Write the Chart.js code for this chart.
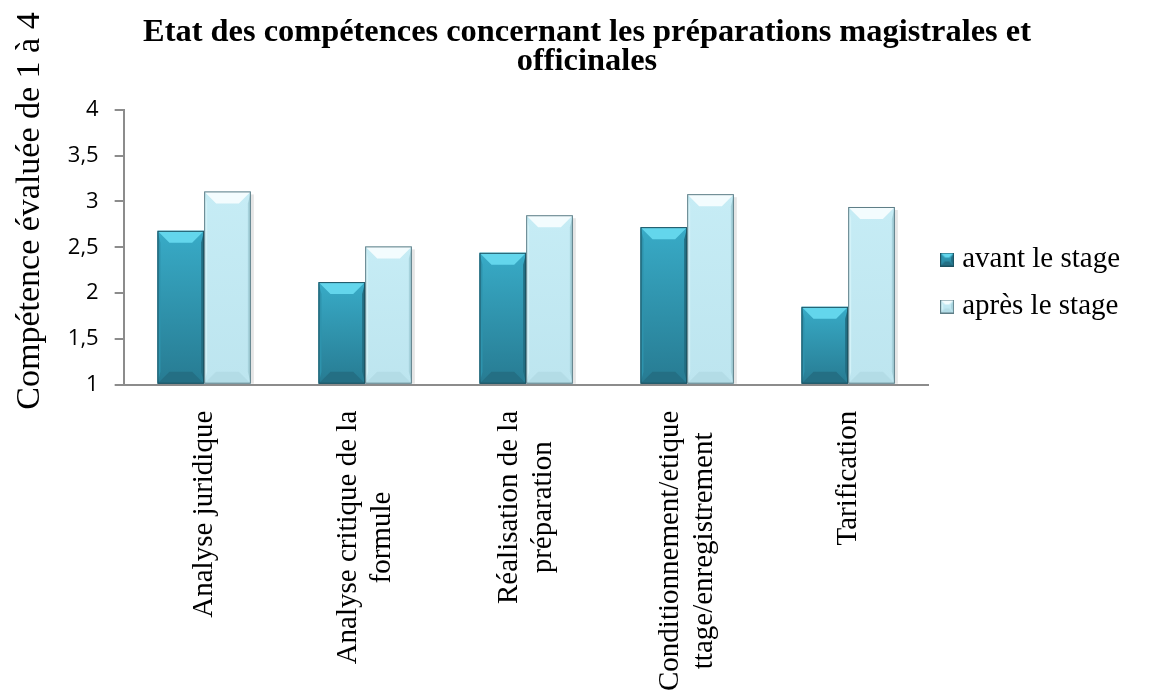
<!DOCTYPE html>
<html lang="fr">
<head>
<meta charset="utf-8">
<title>Etat des compétences</title>
<script src="https://cdn.jsdelivr.net/npm/chart.js@4.4.1/dist/chart.umd.min.js"></script>
<style>
  html, body { margin: 0; padding: 0; background: #fff; }
  #wrap { width: 1154px; height: 693px; position: relative; }
</style>
</head>
<body>
<div id="wrap"><canvas id="chart"></canvas></div>
<script>
// data
const CATEGORIES = [
  "Analyse juridique",
  ["Analyse critique de la", "formule"],
  ["Réalisation de la", "préparation"],
  ["Conditionnement/etique", "ttage/enregistrement"],
  "Tarification"
];
const AVANT = [2.68, 2.12, 2.44, 2.72, 1.85];
const APRES = [3.11, 2.51, 2.85, 3.08, 2.94];
const SERIES_NAMES = ["avant le stage", "après le stage"];
const TITLE_LINES = ["Etat des compétences concernant les préparations magistrales et", "officinales"];
const Y_TITLE = "Compétence évaluée de 1 à 4";
const Y_MIN = 1, Y_MAX = 4, Y_STEP = 0.5;

const SERIF = "'Liberation Serif', 'Times New Roman', serif";
const SANS = "'Open Sans', 'Liberation Sans', sans-serif";
const X_FONT = 29;
const Y_TITLE_FONT = 34;
const TITLE_FONT = 32.4;

// palettes for the bevelled bars
const PAL = [
  { faceTop: "#38abc7", faceBot: "#277b92", top: "#63d6ec", left: "#2e93ad", right: "#226d82", bottom: "#246f84", border: "#1c5160" },
  { faceTop: "#c6ecf5", faceBot: "#bde5ef", top: "#f3fcfe", left: "#d3f2f8", right: "#a6d2dc", bottom: "#b3dce6", border: "#5e7d86" }
];

function bevelRect(ctx, l, t, r, b, p, bev){
  const w = r - l, h = b - t;
  const k = Math.min(bev, w / 2, h / 2);
  const g = ctx.createLinearGradient(0, t, 0, b);
  g.addColorStop(0, p.faceTop);
  g.addColorStop(1, p.faceBot);
  ctx.fillStyle = g;
  ctx.fillRect(l, t, w, h);
  const poly = (pts, col) => {
    ctx.beginPath();
    ctx.moveTo(pts[0][0], pts[0][1]);
    for (let i = 1; i < pts.length; i++) ctx.lineTo(pts[i][0], pts[i][1]);
    ctx.closePath();
    ctx.fillStyle = col;
    ctx.fill();
  };
  const s = Math.min(3, k); // thin side bevels
  poly([[l, t], [r, t], [r - k, t + k], [l + k, t + k]], p.top);
  poly([[l, b], [r, b], [r - k, b - k], [l + k, b - k]], p.bottom);
  poly([[l, t], [l + s, t + k], [l + s, b - k], [l, b]], p.left);
  poly([[r, t], [r - s, t + k], [r - s, b - k], [r, b]], p.right);
  ctx.strokeStyle = p.border;
  ctx.lineWidth = 1;
  ctx.strokeRect(l + 0.5, t + 0.5, w - 1, h - 1);
}

function legendIcon(p){
  const c = document.createElement("canvas");
  c.width = 14; c.height = 14;
  bevelRect(c.getContext("2d"), 0, 0, 14, 14, p, 5);
  return c;
}
const ICONS = PAL.map(legendIcon);

// draws the bevel look on top of each bar, using the bar elements' own geometry
const bevelBars = {
  id: "bevelBars",
  afterDatasetsDraw(chart){
    const ctx = chart.ctx;
    ctx.save();
    chart.data.datasets.forEach((ds, di) => {
      const meta = chart.getDatasetMeta(di);
      if (meta.hidden) return;
      meta.data.forEach(el => {
        const { x, y, base, width } = el.getProps(["x", "y", "base", "width"], true);
        const l = x - width / 2, r = x + width / 2;
        // soft shadow
        ctx.fillStyle = "rgba(0,0,0,0.10)";
        ctx.fillRect(r, y + 3, 3, base - y - 3);
        bevelRect(ctx, l, y, r, base, PAL[di], 12);
      });
    });
    ctx.restore();
  }
};

// x labels with lines centred on each other; title and y title placed as in the original
const textExtras = {
  id: "textExtras",
  afterDraw(chart){
    const xs = chart.scales.x;
    const ctx = chart.ctx;
    ctx.save();
    ctx.fillStyle = "#000";
    ctx.textAlign = "center";
    ctx.textBaseline = "middle";

    ctx.font = "bold " + TITLE_FONT + "px " + SERIF;
    TITLE_LINES.forEach((s, j) => ctx.fillText(s, 587, 33 + j * 29));

    ctx.font = X_FONT + "px " + SERIF;
    const lh = 34;
    chart.data.labels.forEach((lbl, i) => {
      const lines = Array.isArray(lbl) ? lbl : [lbl];
      const maxW = Math.max(...lines.map(s => ctx.measureText(s).width));
      const px = xs.getPixelForTick(i);
      ctx.save();
      ctx.translate(px, xs.top + 26);
      ctx.rotate(-Math.PI / 2);
      lines.forEach((s, j) => {
        ctx.fillText(s, -maxW / 2, (j - (lines.length - 1) / 2) * lh);
      });
      ctx.restore();
    });

    ctx.font = Y_TITLE_FONT + "px " + SERIF;
    ctx.translate(30, 211);
    ctx.rotate(-Math.PI / 2);
    ctx.fillText(Y_TITLE, 0, 0);
    ctx.restore();
  }
};

new Chart(document.getElementById("chart"), {
  type: "bar",
  data: {
    labels: CATEGORIES,
    datasets: [
      { label: SERIES_NAMES[0], data: AVANT, backgroundColor: "rgba(0,0,0,0)", borderWidth: 0 },
      { label: SERIES_NAMES[1], data: APRES, backgroundColor: "rgba(0,0,0,0)", borderWidth: 0 }
    ]
  },
  options: {
    responsive: true,
    maintainAspectRatio: false,
    animation: false,
    layout: { padding: { left: 7, right: 24, top: 0, bottom: 0 } },
    datasets: { bar: { categoryPercentage: 0.58, barPercentage: 1.0, base: Y_MIN } },
    plugins: {
      title: {
        display: true,
        text: TITLE_LINES,
        color: "rgba(0,0,0,0)",
        font: { family: SERIF, size: 32, weight: "bold", lineHeight: 0.92 },
        padding: { top: 20, bottom: 31 }
      },
      legend: {
        position: "right",
        align: "start",
        title: { display: true, text: " ", font: { size: 10, lineHeight: 1.2 }, padding: { top: 215, bottom: 0 } },
        labels: {
          color: "#000",
          font: { family: SERIF, size: 29 },
          usePointStyle: true,
          pointStyleWidth: 1,
          padding: 18,
          generateLabels(chart){
            const items = Chart.defaults.plugins.legend.labels.generateLabels(chart);
            items.forEach((it, i) => { it.pointStyle = ICONS[i]; });
            return items;
          }
        }
      },
      tooltip: { enabled: false }
    },
    scales: {
      x: {
        grid: { display: false },
        border: { color: "#8c8c8c", width: 2 },
        ticks: {
          color: "rgba(0,0,0,0)",
          font: { family: SERIF, size: X_FONT },
          maxRotation: 90, minRotation: 90, padding: 10
        }
      },
      y: {
        min: Y_MIN, max: Y_MAX,
        grid: { drawOnChartArea: false, drawTicks: true, tickLength: 9, color: "#8c8c8c", lineWidth: 2 },
        border: { color: "#8c8c8c", width: 2 },
        ticks: {
          stepSize: Y_STEP,
          color: "#000",
          padding: 16,
          font: { family: SANS, size: 22 },
          callback: v => String(v).replace(".", ",")
        },
        title: {
          display: true,
          text: Y_TITLE,
          color: "rgba(0,0,0,0)",
          font: { family: SERIF, size: Y_TITLE_FONT },
          padding: { top: 4, bottom: 0 }
        }
      }
    }
  },
  plugins: [bevelBars, textExtras]
});
</script>
</body>
</html>
